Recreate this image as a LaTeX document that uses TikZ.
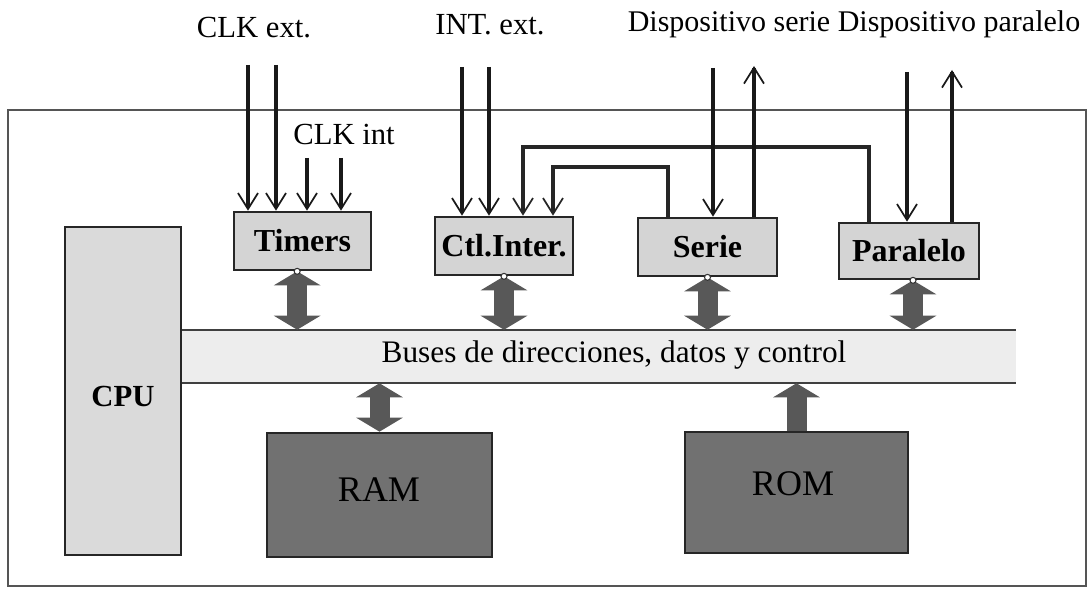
\documentclass[tikz,border=0pt]{standalone}
\usepackage{fontspec}
\setmainfont{Liberation Serif}
\usetikzlibrary{arrows.meta,calc}
\definecolor{boxgray}{HTML}{D4D4D4}
\definecolor{cpugray}{HTML}{DADADA}
\definecolor{busgray}{HTML}{EDEDED}
\definecolor{memgray}{HTML}{717171}
\definecolor{arrgray}{HTML}{585858}
\definecolor{framegray}{HTML}{555555}
\begin{document}
\begin{tikzpicture}[x=0.75pt,y=-0.75pt,
  box/.style={draw=black!85, line width=2pt, fill=boxgray, inner sep=0pt, font=\fontsize{24}{28}\selectfont\bfseries},
  membox/.style={draw=black!85, line width=2pt, fill=memgray, inner sep=0pt},
  lbl/.style={inner sep=0pt, font=\fontsize{23}{27}\selectfont},
  memlbl/.style={inner sep=0pt, font=\fontsize{27}{31}\selectfont},
  sigtip/.tip={Straight Barb[length=12pt,width=15pt,line width=1.3pt]},
  sig/.style={line width=2.3pt, draw=black!90, -sigtip},
  route/.style={line width=3pt, draw=black!85, line join=miter, -sigtip},
  blktip/.tip={Triangle[width=35pt,length=10.5pt,line width=0pt]},
  blk/.style={line width=15pt, draw=arrgray, blktip-blktip},
  blkone/.style={line width=15pt, draw=arrgray, -blktip},
  knob/.style={draw=black!80, line width=0.8pt, fill=white},
  busline/.style={line width=1.6pt, draw=black!75},
]
\useasboundingbox (0,0) rectangle (1089,591);
% outer frame
\draw[line width=1.2pt, draw=framegray] (8,110) rectangle (1086,586);

% top labels
\node[lbl] (clkext) at (254,28) {CLK ext.};
\node[lbl] (intext) at (490,25) {INT. ext.};
\node[lbl,font=\fontsize{22.5}{27}\selectfont] (disp) at (854,24) {Dispositivo serie Dispositivo paralelo};
\node[lbl] (clkint) at (344,135) {CLK int};

% bus
\node[fill=busgray, inner sep=0pt, minimum width=626.25pt, minimum height=39.75pt] (bus) at (598.5,356.5) {};
\draw[busline] (bus.north west) -- (bus.north east);
\draw[busline] (bus.south west) -- (bus.south east);
\node[lbl,font=\fontsize{23.5}{27}\selectfont] (buslbl) at (614,355) {Buses de direcciones, datos y control};

% boxes
\node[box, fill=cpugray, minimum width=87pt, minimum height=246pt] (cpu) at (123,391) {};
\node[inner sep=0pt, font=\fontsize{23}{27}\selectfont\bfseries] (cpulbl) at (123,396) {CPU};
\node[box, minimum width=102.75pt, minimum height=43.5pt] (tim) at (302.5,241) {Timers};
\node[box, minimum width=103.5pt, minimum height=43.5pt] (ctl) at (504,246) {Ctl.Inter.};
\node[box, minimum width=104.25pt, minimum height=43.5pt] (ser) at (707.5,247) {Serie};
\node[box, minimum width=105pt, minimum height=42pt] (par) at (909,251) {Paralelo};
\node[membox, minimum width=168.75pt, minimum height=93pt] (ram) at (379.5,495) {};
\node[membox, minimum width=167.25pt, minimum height=90.75pt] (rom) at (796.5,492.5) {};
\node[memlbl] (ramlbl) at (379,490) {RAM};
\node[memlbl] (romlbl) at (793,484) {ROM};

% signal start points
\coordinate (ce1) at (248,65);
\coordinate (ce2) at (276,65);
\coordinate (ci1) at (307,158);
\coordinate (ci2) at (341,158);
\coordinate (ie1) at (462,67);
\coordinate (ie2) at (489,67);
\coordinate (sd) at (713,68);
\coordinate (su) at (754,66);
\coordinate (pd) at (907,72);
\coordinate (pu) at (952,70);
\coordinate (r1) at (523,147);
\coordinate (r1e) at (869,147);
\coordinate (r2) at (553,167);
\coordinate (r2e) at (668,167);

% signals into Timers
\draw[sig] (ce1) -- (ce1 |- tim.north);
\draw[sig] (ce2) -- (ce2 |- tim.north);
\draw[sig] (ci1) -- (ci1 |- tim.north);
\draw[sig] (ci2) -- (ci2 |- tim.north);
% signals into Ctl.Inter.
\draw[sig] (ie1) -- (ie1 |- ctl.north);
\draw[sig] (ie2) -- (ie2 |- ctl.north);
\draw[route] (r1e |- par.north) -- (r1e) -- (r1) -- (r1 |- ctl.north);
\draw[route] (r2e |- ser.north) -- (r2e) -- (r2) -- (r2 |- ctl.north);
% serie
\draw[sig] (sd) -- (sd |- ser.north);
\draw[sig] (su |- ser.north) -- (su);
% paralelo
\draw[sig] (pd) -- (pd |- par.north);
\draw[sig] (pu |- par.north) -- (pu);

% block arrows
\draw[blk] ([xshift=-4pt]tim.south) -- ([xshift=-4pt]tim.south |- bus.north);
\draw[blk] (ctl.south) -- (ctl.south |- bus.north);
\draw[blk] (ser.south) -- (ser.south |- bus.north);
\draw[blk] ([xshift=3pt]par.south) -- ([xshift=3pt]par.south |- bus.north);
\draw[blk] (ram.north) -- (ram.north |- bus.south);
\draw[blkone] (rom.north) -- (rom.north |- bus.south);

% small knobs
\draw[knob] ([xshift=-4pt]tim.south) circle[radius=3];
\draw[knob] (ctl.south) circle[radius=3];
\draw[knob] (ser.south) circle[radius=3];
\draw[knob] ([xshift=3pt]par.south) circle[radius=3];
\end{tikzpicture}
\end{document}
